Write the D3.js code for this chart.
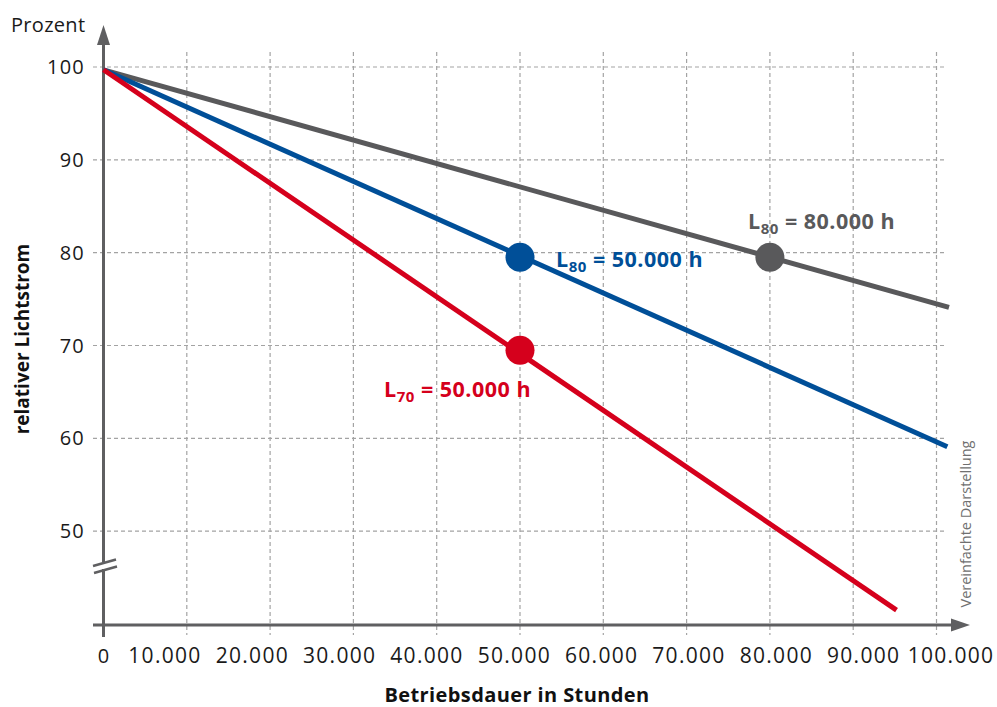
<!DOCTYPE HTML>
<html>
<head>
<meta charset="utf-8">
<script type="text/javascript" src="https://d3js.org/d3.v7.min.js"></script>
<style>
  body { margin: 0; background: #fff; }
  svg { display: block; font-family: "Open Sans", sans-serif; }
</style>
</head>
<body>
<div id="chart"></div>
<script type="text/javascript">
// data
var xTicks = [10000, 20000, 30000, 40000, 50000, 60000, 70000, 80000, 90000, 100000];
var xTickLabels = ["10.000", "20.000", "30.000", "40.000", "50.000", "60.000", "70.000", "80.000", "90.000", "100.000"];
var yTicks = [50, 60, 70, 80, 90, 100];

var seriesNames = ["grau", "blau", "rot"];
var seriesColors = ["#59595b", "#004f98", "#d5001c"];
var grayLine = [[0, 99.7], [101500, 74.1]];
var blueLine = [[0, 99.7], [101300, 59.1]];
var redLine = [[0, 99.7], [95200, 41.5]];

var markerX = [80000, 50000, 50000];
var markerY = [79.5, 79.5, 69.5];
var markerLabel = ["80", "80", "70"];
var markerText = [" = 80.000 h", " = 50.000 h", " = 50.000 h"];

var W = 997, H = 707;
var svg = d3.select("#chart").append("svg").attr("width", W).attr("height", H);

var x = d3.scaleLinear().domain([0, 100000]).range([103.5, 936.5]);
var y = d3.scaleLinear().domain([40, 100]).range([624, 67]);
// the tick labels are spread a bit wider than the grid
var xLab = d3.scaleLinear().domain([10000, 100000]).range([165, 951]);

var axisCol = "#5f5f61", gridCol = "#a3a3a3";

// grid
svg.append("g").selectAll("line").data(xTicks).enter().append("line")
  .attr("x1", function(d) { return x(d); }).attr("x2", function(d) { return x(d); })
  .attr("y1", 52).attr("y2", 635)
  .attr("stroke", gridCol).attr("stroke-width", 1.2).attr("stroke-dasharray", "4,3");
svg.append("g").selectAll("line").data(yTicks).enter().append("line")
  .attr("x1", 93).attr("x2", 947)
  .attr("y1", function(d) { return y(d); }).attr("y2", function(d) { return y(d); })
  .attr("stroke", gridCol).attr("stroke-width", 1.2).attr("stroke-dasharray", "4,3");

// axes
svg.append("line").attr("x1", x(0)).attr("x2", x(0)).attr("y1", 40).attr("y2", 637)
  .attr("stroke", axisCol).attr("stroke-width", 3);
svg.append("path").attr("d", "M" + x(0) + ",25 l-6.5,20 l13,0 z").attr("fill", axisCol);
svg.append("line").attr("x1", 93).attr("x2", 955).attr("y1", 625).attr("y2", 625)
  .attr("stroke", axisCol).attr("stroke-width", 3);
svg.append("path").attr("d", "M970,625 l-19,-6.5 l0,13 z").attr("fill", axisCol);

// axis break
svg.append("rect").attr("x", x(0) - 4).attr("y", 562).attr("width", 8).attr("height", 7).attr("fill", "#fff");
svg.append("line").attr("x1", 93).attr("y1", 566).attr("x2", 116).attr("y2", 559.5)
  .attr("stroke", axisCol).attr("stroke-width", 2.5);
svg.append("line").attr("x1", 94).attr("y1", 573).attr("x2", 117).attr("y2", 566.5)
  .attr("stroke", axisCol).attr("stroke-width", 2.5);

// y tick labels
svg.append("g").selectAll("text").data(yTicks).enter().append("text")
  .attr("x", 85).attr("y", function(d) { return y(d) + 7; })
  .attr("text-anchor", "end").attr("font-size", 20).attr("letter-spacing", 1.2).attr("fill", "#1a1a1a")
  .text(function(d) { return d; });

// x tick labels
svg.append("text").attr("x", x(0)).attr("y", 663).attr("text-anchor", "middle")
  .attr("font-size", 20).attr("fill", "#1a1a1a").text("0");
svg.append("g").selectAll("text").data(xTicks).enter().append("text")
  .attr("x", function(d) { return xLab(d); }).attr("y", 663)
  .attr("text-anchor", "middle").attr("font-size", 21).attr("letter-spacing", 1.3).attr("fill", "#1a1a1a")
  .text(function(d, i) { return xTickLabels[i]; });

// titles
svg.append("text").attr("x", 11).attr("y", 32).attr("font-size", 20).attr("letter-spacing", 0.3).attr("fill", "#1a1a1a").text("Prozent");
svg.append("text").attr("transform", "translate(29,339) rotate(-90)").attr("text-anchor", "middle")
  .attr("font-size", 19).attr("font-weight", "bold").attr("fill", "#111").text("relativer Lichtstrom");
svg.append("text").attr("x", 517).attr("y", 702).attr("text-anchor", "middle")
  .attr("font-size", 20).attr("font-weight", "bold").attr("letter-spacing", 0.4).attr("fill", "#111").text("Betriebsdauer in Stunden");
svg.append("text").attr("transform", "translate(971,524) rotate(-90)").attr("text-anchor", "middle")
  .attr("font-size", 14.5).attr("fill", "#707070").text("Vereinfachte Darstellung");

// lines
var line = d3.line().x(function(d) { return x(d[0]); }).y(function(d) { return y(d[1]); });
[grayLine, blueLine, redLine].forEach(function(s, i) {
  svg.append("path").attr("d", line(s)).attr("fill", "none")
    .attr("stroke", seriesColors[i]).attr("stroke-width", 5).attr("class", seriesNames[i]);
});

// markers
svg.append("g").selectAll("circle").data(markerX).enter().append("circle")
  .attr("cx", function(d) { return x(d); })
  .attr("cy", function(d, i) { return y(markerY[i]); })
  .attr("r", 14.5).attr("fill", function(d, i) { return seriesColors[i]; });

// annotations
var labelPos = [[748, 229], [556, 267], [384, 397]];
labelPos.forEach(function(p, i) {
  var t = svg.append("text").attr("x", p[0]).attr("y", p[1])
    .attr("font-size", 21.5).attr("font-weight", "bold").attr("letter-spacing", 0.5).attr("fill", seriesColors[i]);
  t.append("tspan").text("L");
  t.append("tspan").attr("font-size", 15).attr("dy", 5).text(markerLabel[i]);
  t.append("tspan").attr("dy", -5).text(markerText[i]);
});
</script>
</body>
</html>
